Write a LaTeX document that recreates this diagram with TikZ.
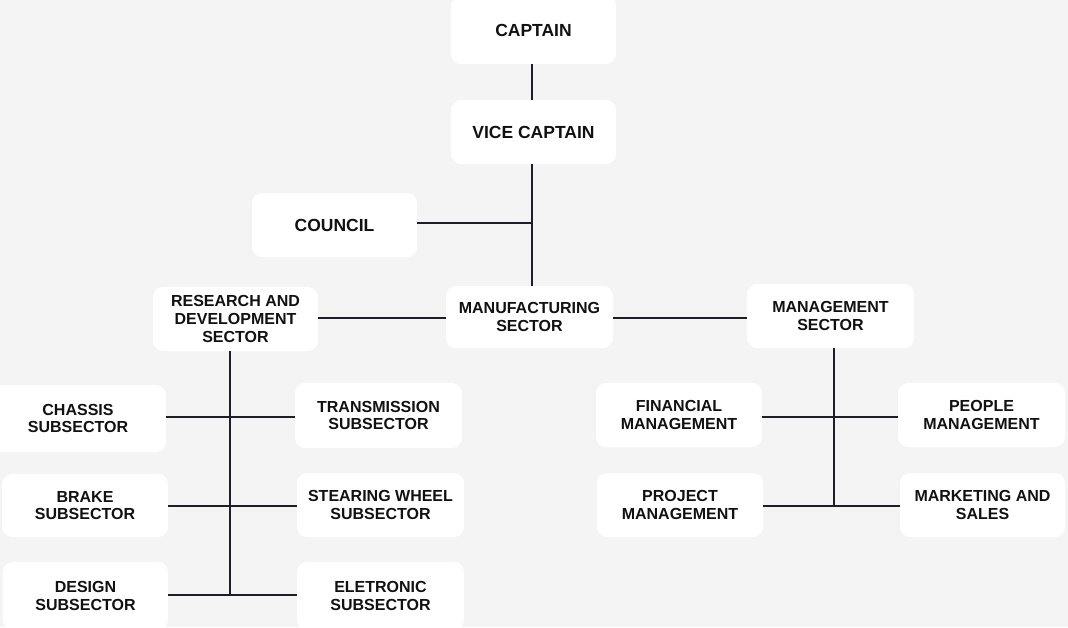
\documentclass[tikz,border=0pt]{standalone}
\usepackage{fontspec}
\setmainfont{Liberation Sans}
\definecolor{bg}{HTML}{F4F4F4}
\definecolor{ln}{HTML}{1E1E28}
\definecolor{tx}{HTML}{111111}
\begin{document}
\begin{tikzpicture}[x=1pt,y=-1pt,
  box/.style={draw=none,fill=white,rounded corners=10pt,inner sep=0pt,align=center,
    text=tx,font=\bfseries\fontsize{16}{17.7}\selectfont},
  bigbox/.style={box,font=\bfseries\fontsize{17.5}{19}\selectfont},
  conn/.style={draw=ln,line width=1.8pt}]
\clip (0,0) rectangle (1068,627);
\fill[bg] (0,0) rectangle (1068,627);
% top
\node[bigbox,minimum width=165pt,minimum height=68pt] (captain) at (533.5,30) {CAPTAIN};
\node[bigbox,minimum width=165pt,minimum height=64pt] (vice) at (533.5,132) {VICE CAPTAIN};
\node[bigbox,minimum width=165pt,minimum height=64pt] (council) at (334.5,225) {COUNCIL};
% sectors
\node[box,minimum width=167pt,minimum height=62pt] (manuf) at (529.5,317) {MANUFACTURING\\SECTOR};
\node[box,minimum width=165pt,minimum height=64pt] (rd) at (235.5,319) {RESEARCH AND\\DEVELOPMENT\\SECTOR};
\node[box,minimum width=167pt,minimum height=64pt] (mgmt) at (830.5,316) {MANAGEMENT\\SECTOR};
% R&D subsectors
\node[box,minimum width=176pt,minimum height=67pt] (chassis) at (78,418.5) {CHASSIS\\SUBSECTOR};
\node[box,minimum width=167pt,minimum height=65pt] (trans) at (378.5,415.5) {TRANSMISSION\\SUBSECTOR};
\node[box,minimum width=166pt,minimum height=63pt] (brake) at (85,505.5) {BRAKE\\SUBSECTOR};
\node[box,minimum width=167pt,minimum height=64pt] (stear) at (380.5,505) {STEARING WHEEL\\SUBSECTOR};
\node[box,minimum width=165pt,minimum height=68pt] (design) at (85.5,596) {DESIGN\\SUBSECTOR};
\node[box,minimum width=167pt,minimum height=68pt] (elec) at (380.5,596) {ELETRONIC\\SUBSECTOR};
% management subsectors
\node[box,minimum width=166pt,minimum height=64pt] (fin) at (679,415) {FINANCIAL\\MANAGEMENT};
\node[box,minimum width=167pt,minimum height=64pt] (people) at (981.5,415) {PEOPLE\\MANAGEMENT};
\node[box,minimum width=166pt,minimum height=64pt] (proj) at (680,505) {PROJECT\\MANAGEMENT};
\node[box,minimum width=165pt,minimum height=64pt] (mark) at (982.5,505) {MARKETING AND\\SALES};
% junction coordinates
\coordinate (spine) at (532,0);
\coordinate (rdend) at (230,595);
\coordinate (mgend) at (834,506);
% connectors
\draw[conn] (captain.south -| spine) -- (vice.north -| spine);
\draw[conn] (vice.south -| spine) -- (manuf.north -| spine);
\draw[conn] (council.east |- 0,223) -- (spine |- 0,223);
\draw[conn] (rd.east |- 0,318) -- (manuf.west |- 0,318);
\draw[conn] (manuf.east |- 0,318) -- (mgmt.west |- 0,318);
\draw[conn] (rd.south -| rdend) -- (rdend);
\draw[conn] (chassis.east |- 0,417) -- (trans.west |- 0,417);
\draw[conn] (brake.east |- 0,506) -- (stear.west |- 0,506);
\draw[conn] (design.east |- rdend) -- (elec.west |- rdend);
\draw[conn] (mgmt.south -| mgend) -- (mgend);
\draw[conn] (fin.east |- 0,417) -- (people.west |- 0,417);
\draw[conn] (proj.east |- mgend) -- (mark.west |- mgend);
\end{tikzpicture}
\end{document}
